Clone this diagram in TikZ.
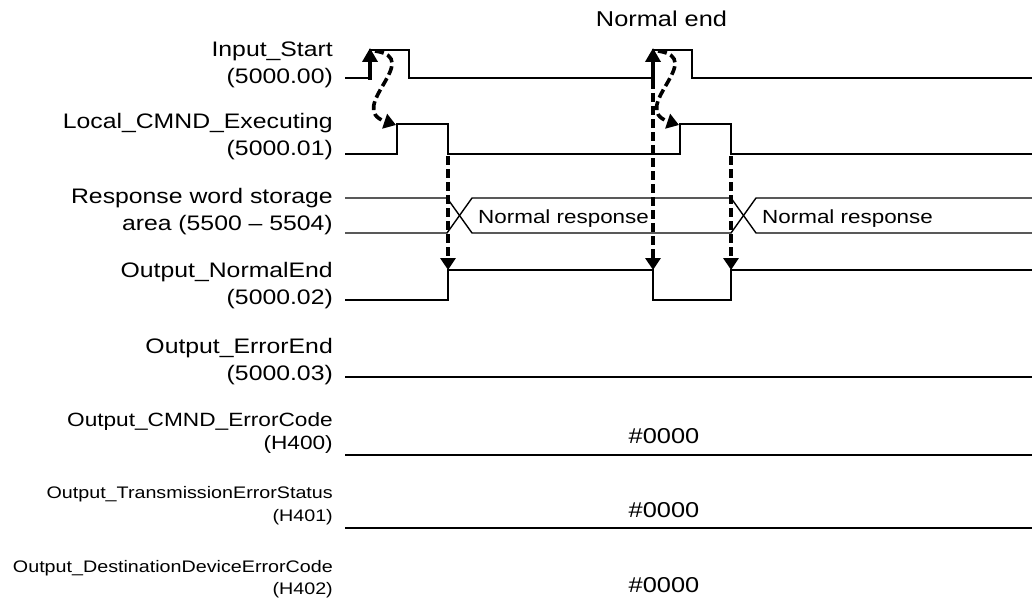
\documentclass[tikz,border=0pt]{standalone}
\usepackage{fontspec}
\setmainfont{Liberation Sans}[FakeStretch=1.18]
\usetikzlibrary{arrows.meta}

\begin{document}
\begin{tikzpicture}[
                x=1pt, y=-1pt,
                signal/.style={line width=1.4pt},
                cause/.style={line width=3.6pt, dash pattern=on 9pt off 4pt,
                    -{Triangle[length=12pt,width=15pt]}},
                rise/.style={line width=3.6pt, -{Triangle[length=14pt,width=15pt]}},
                sigtext/.style={anchor=east, align=right, inner sep=0pt,
                    font=\fontsize{21}{27}\selectfont},
                small sigtext/.style={sigtext, font=\fontsize{16.7}{22.5}\selectfont},
                hexval/.style={anchor=base, inner sep=0pt, font=\fontsize{21.5}{25}\selectfont},
                resp/.style={anchor=base west, inner sep=0pt, font=\fontsize{19}{23}\selectfont}
            ]

            \useasboundingbox (0,0) rectangle (1032,599);

            \node[sigtext] (start) at (333,64.5) {Input\_Start\\(5000.00)};
            \node[sigtext] (exec) at (333,136.5) {Local\_CMND\_Executing\\(5000.01)};
            \node[sigtext] (area) at (333,211.5) {Response word storage\\area (5500 -- 5504)};
            \node[sigtext] (normal) at (333,286) {Output\_NormalEnd\\(5000.02)};
            \node[sigtext] (error) at (333,361.5) {Output\_ErrorEnd\\(5000.03)};
            \node[sigtext, font=\fontsize{19.2}{23}\selectfont] (cmnd) at (333,433.5) {Output\_CMND\_ErrorCode\\(H400)};
            \node[small sigtext] (trans) at (333,505.5) {Output\_TransmissionErrorStatus\\(H401)};
            \node[small sigtext] (dest) at (333,579) {Output\_DestinationDeviceErrorCode\\(H402)};

            \node[hexval] (end) at (661.5,27) {Normal end};
            \node[resp] (resp1) at (478,223.5) {Normal response};
            \node[resp] (resp2) at (762,223.5) {Normal response};
            \node[hexval] (cmnd val) at (664,443) {\#0000};
            \node[hexval] (trans val) at (664,517) {\#0000};
            \node[hexval] (dest val) at (664,592) {\#0000};

            \coordinate (start up1) at (370,50);
            \coordinate (start up2) at (653,50);
            \coordinate (exec up1) at (397,124);
            \coordinate (exec up2) at (680,124);
            \coordinate (exec down1) at (448,154);
            \coordinate (exec down2) at (731,154);
            \coordinate (normal up1) at (448,270);
            \coordinate (normal down) at (653,270);
            \coordinate (normal up2) at (731,270);

            \draw[signal] (345,78) -| (start up1) -| (409,78) -| (start up2) -| (692,78) -- (1032,78);
            \draw[signal] (345,154) -| (exec up1) -| (exec down1) -| (exec up2) -| (exec down2) -- (1032,154);
            \draw[signal] (345,198) -- (447,198) -- (472,233) -- (731,233) -- (756,198) -- (1032,198);
            \draw[signal] (345,233) -- (447,233) -- (472,198) -- (731,198) -- (756,233) -- (1032,233);
            \draw[signal] (345,300) -| (normal up1) -| (653,300) -| (normal up2) -- (1032,270);
            \draw[signal] (345,377) -- (1032,377);
            \draw[signal] (345,455) -- (1032,455);
            \draw[signal] (345,528) -- (1032,528);

            \draw[rise] (370,80) -- ([yshift=2pt]start up1);
            \draw[rise] (653,80) -- ([yshift=2pt]start up2);
            \draw[cause] ([xshift=5pt,yshift=-1pt]start up1) .. controls (425,58) and (345,108) .. ([xshift=-1pt,yshift=-1pt]exec up1);
            \draw[cause] ([xshift=5pt,yshift=-1pt]start up2) .. controls (708,58) and (628,108) .. ([xshift=-1pt,yshift=-1pt]exec up2);
            \draw[cause] ([yshift=-2pt]exec down1) -- (normal up1);
            \draw[cause] (653,80) -- (normal down);
            \draw[cause] ([yshift=-2pt]exec down2) -- (normal up2);

        \end{tikzpicture}
\end{document}
